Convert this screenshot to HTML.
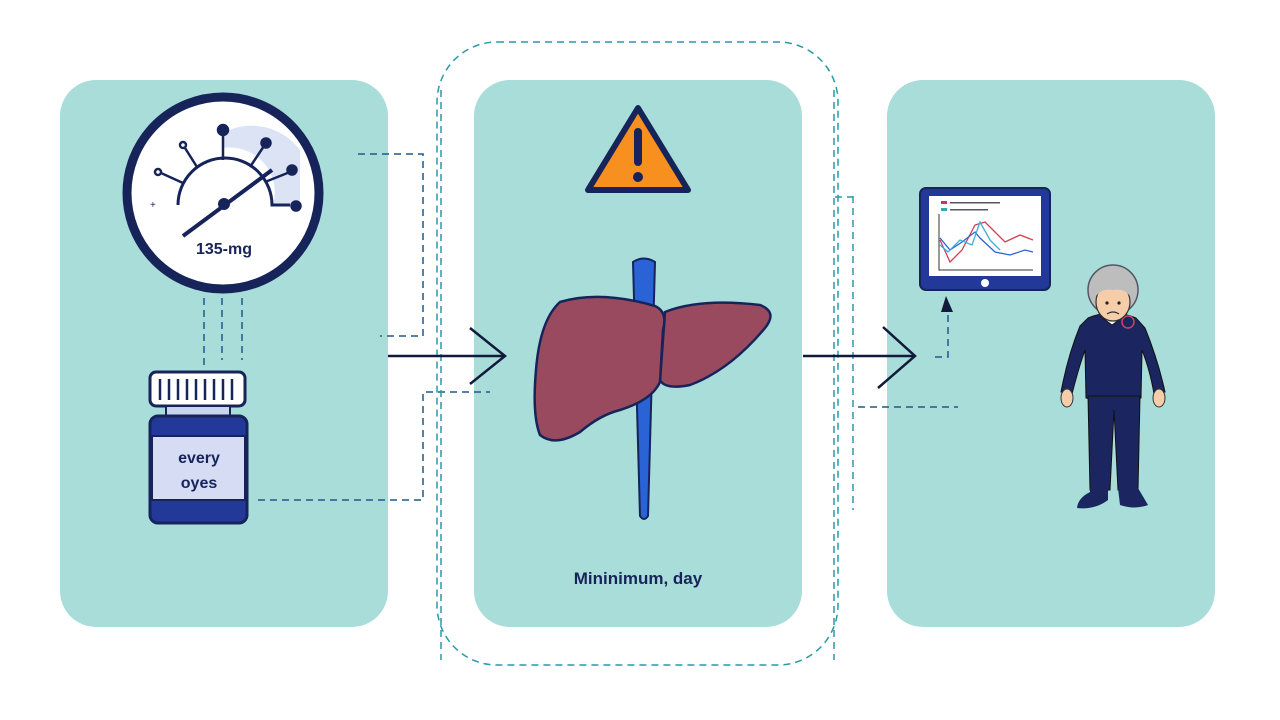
<!DOCTYPE html>
<html><head><meta charset="utf-8"><style>
html,body{margin:0;padding:0;background:#fff;width:1280px;height:720px;overflow:hidden}
svg{display:block}
text{font-family:"Liberation Sans",sans-serif}
</style></head><body>
<svg width="1280" height="720" viewBox="0 0 1280 720" xmlns="http://www.w3.org/2000/svg">
<rect width="1280" height="720" fill="#fff"/>
<rect x="437" y="42" width="401" height="623" rx="60" fill="none" stroke="#2a9aa8" stroke-width="1.5" stroke-dasharray="7 5"/>
<rect x="60" y="80" width="328" height="547" rx="36" fill="#a9ddd9"/>
<rect x="474" y="80" width="328" height="547" rx="36" fill="#a9ddd9"/>
<rect x="887" y="80" width="328" height="547" rx="36" fill="#a9ddd9"/>

<g fill="none" stroke="#1d5a8a" stroke-width="1.5" stroke-dasharray="7 5">
<path d="M358 154 H423 V336 H380"/>
<path d="M258 500 H423 V392 H490"/>
<path d="M204 298 V368 M222 298 V360 M242 298 V360"/>
</g>
<g fill="none" stroke="#2a9aa8" stroke-width="1.5" stroke-dasharray="7 5">
<path d="M441 90 V660"/>
<path d="M834 90 V660"/>
<path d="M853 196 V510"/>
<path d="M835 197 H853"/>
</g>
<g stroke="#111a3a" stroke-width="2.5" fill="none">
<path d="M388 356 H505"/><path d="M470 328 L505 356 L470 384"/>
<path d="M803 356 H915"/><path d="M883 327 L915 356 L878 388"/>
</g>
<g fill="none" stroke="#1d5a8a" stroke-width="1.5" stroke-dasharray="7 5">
<path d="M935 357 H948 V305"/>
<path d="M858 407 H958"/>
</g>
<path d="M941 312 L946 296 L953 312 Z" fill="#111a3a"/>

<!-- gauge -->
<circle cx="223" cy="193" r="96" fill="#fff" stroke="#16245a" stroke-width="9"/>
<path d="M223 133 A60 60 0 0 1 300 150 L300 205 L273 205 A45 45 0 0 0 223 148 Z" fill="#dbe3f5"/>
<path d="M178 205 A45 45 0 0 1 272 205 H290" fill="none" stroke="#16245a" stroke-width="3"/>
<g stroke="#16245a" stroke-width="2.5" fill="#16245a">
<line x1="223" y1="160" x2="223" y2="133"/><circle cx="223" cy="130" r="5"/>
<line x1="250" y1="167" x2="264" y2="146"/><circle cx="266" cy="143" r="4.5"/>
<line x1="265" y1="182" x2="290" y2="172"/><circle cx="292" cy="170" r="4.5"/>
<circle cx="296" cy="206" r="4.5"/>
<line x1="197" y1="167" x2="185" y2="148"/><circle cx="183" cy="145" r="3" fill="#fff"/>
<line x1="183" y1="183" x2="161" y2="173"/><circle cx="158" cy="172" r="3" fill="#fff"/>
</g>
<line x1="183" y1="236" x2="272" y2="170" stroke="#16245a" stroke-width="4"/>
<circle cx="224" cy="204" r="6" fill="#16245a"/>
<text x="150" y="208" font-size="10" fill="#16245a">+</text>
<text x="224" y="254" font-size="16" font-weight="bold" fill="#16245a" text-anchor="middle">135-mg</text>

<!-- bottle -->
<rect x="150" y="372" width="95" height="34" rx="6" fill="#fff" stroke="#16245a" stroke-width="3"/>
<g stroke="#16245a" stroke-width="2.5">
<line x1="160" y1="379" x2="160" y2="400"/><line x1="169" y1="379" x2="169" y2="400"/><line x1="178" y1="379" x2="178" y2="400"/><line x1="187" y1="379" x2="187" y2="400"/><line x1="196" y1="379" x2="196" y2="400"/><line x1="205" y1="379" x2="205" y2="400"/><line x1="214" y1="379" x2="214" y2="400"/><line x1="223" y1="379" x2="223" y2="400"/><line x1="232" y1="379" x2="232" y2="400"/>
</g>
<rect x="166" y="406" width="64" height="12" fill="#c9d4ef" stroke="#16245a" stroke-width="2"/>
<rect x="150" y="416" width="97" height="107" rx="8" fill="#22399a" stroke="#16245a" stroke-width="3"/>
<rect x="152" y="436" width="93" height="64" fill="#d5dcf3" stroke="#16245a" stroke-width="2"/>
<text x="199" y="463" font-size="16" font-weight="bold" fill="#16245a" text-anchor="middle">every</text>
<text x="199" y="488" font-size="16" font-weight="bold" fill="#16245a" text-anchor="middle">oyes</text>

<!-- warning -->
<path d="M638 108 L688 190 H588 Z" fill="#f7901e" stroke="#16245a" stroke-width="6" stroke-linejoin="round"/>
<rect x="634" y="128" width="8" height="38" rx="4" fill="#16245a"/>
<circle cx="638" cy="177" r="5" fill="#16245a"/>

<!-- liver -->
<path d="M633 262 Q644 255 655 262 L648 516 Q644 522 640 516 Z" fill="#2a63d6" stroke="#16245a" stroke-width="2"/>
<path d="M665 312 Q700 298 760 305 Q778 312 765 328 Q730 370 690 385 Q665 390 660 380 Z" fill="#9a4a5e" stroke="#16245a" stroke-width="2.5"/>
<path d="M560 302 Q600 290 655 306 Q668 312 663 330 L660 382 Q652 400 620 410 Q600 415 580 432 Q555 447 540 435 Q532 415 536 370 Q540 320 560 302 Z" fill="#9a4a5e" stroke="#16245a" stroke-width="2.5"/>
<text x="638" y="584" font-size="17" font-weight="bold" fill="#16245a" text-anchor="middle">Mininimum, day</text>

<!-- tablet -->
<rect x="920" y="188" width="130" height="102" rx="6" fill="#22399a" stroke="#16245a" stroke-width="2"/>
<rect x="929" y="196" width="112" height="80" fill="#fff"/>
<circle cx="985" cy="283" r="4" fill="#fff"/>
<rect x="941" y="201" width="6" height="3" fill="#d0306a"/><rect x="950" y="202" width="50" height="1.5" fill="#556"/>
<rect x="941" y="208" width="6" height="3" fill="#3aa"/><rect x="950" y="209" width="38" height="1.5" fill="#556"/>
<path d="M939 214 V270 H1033" stroke="#333" stroke-width="1" fill="none"/>
<polyline points="940,240 950,262 962,250 975,225 985,222 1005,242 1020,235 1033,240" fill="none" stroke="#d04050" stroke-width="1.3"/>
<polyline points="940,238 950,250 962,242 975,232 980,238 995,252 1010,255 1025,250 1033,252" fill="none" stroke="#2a63d6" stroke-width="1.3"/>
<polyline points="940,245 948,252 960,240 972,245 980,222 990,240 1000,250" fill="none" stroke="#3ab0d8" stroke-width="1.3"/>

<!-- person -->
<path d="M1088 318 Q1112 308 1136 318 L1145 328 Q1158 360 1165 392 L1154 394 Q1150 370 1142 350 L1141 398 Q1115 404 1086 398 L1085 350 Q1078 370 1072 394 L1061 392 Q1068 355 1080 326 Z" fill="#1b2660" stroke="#111" stroke-width="1"/>
<path d="M1100 316 L1112 325 L1125 316" fill="#fff" stroke="#111" stroke-width="1"/>
<circle cx="1128" cy="322" r="6" fill="none" stroke="#d04060" stroke-width="1.5"/>
<ellipse cx="1067" cy="398" rx="6" ry="9" fill="#f5cda8" stroke="#333"/>
<ellipse cx="1159" cy="398" rx="6" ry="9" fill="#f5cda8" stroke="#333"/>
<path d="M1088 396 H1140 L1138 490 H1118 L1114 410 L1110 490 H1090 Z" fill="#1b2660" stroke="#111"/>
<path d="M1090 488 H1108 L1108 500 Q1095 510 1077 508 Q1078 498 1090 492 Z" fill="#1b2660"/>
<path d="M1118 488 H1138 L1148 505 Q1135 510 1120 505 Z" fill="#1b2660"/>
<circle cx="1113" cy="290" r="25" fill="#bdbdbd" stroke="#556" stroke-width="1.5"/>
<ellipse cx="1113" cy="302" rx="17" ry="19" fill="#f5cda8" stroke="#333" stroke-width="1.2"/>
<path d="M1096 296 Q1100 280 1113 282 Q1126 280 1130 296 Q1124 288 1113 290 Q1102 288 1096 296 Z" fill="#bdbdbd"/>
<circle cx="1107" cy="303" r="1.6" fill="#222"/><circle cx="1119" cy="303" r="1.6" fill="#222"/>
<path d="M1107 314 Q1113 310 1119 314" stroke="#333" stroke-width="1.3" fill="none"/>
</svg>
</body></html>
